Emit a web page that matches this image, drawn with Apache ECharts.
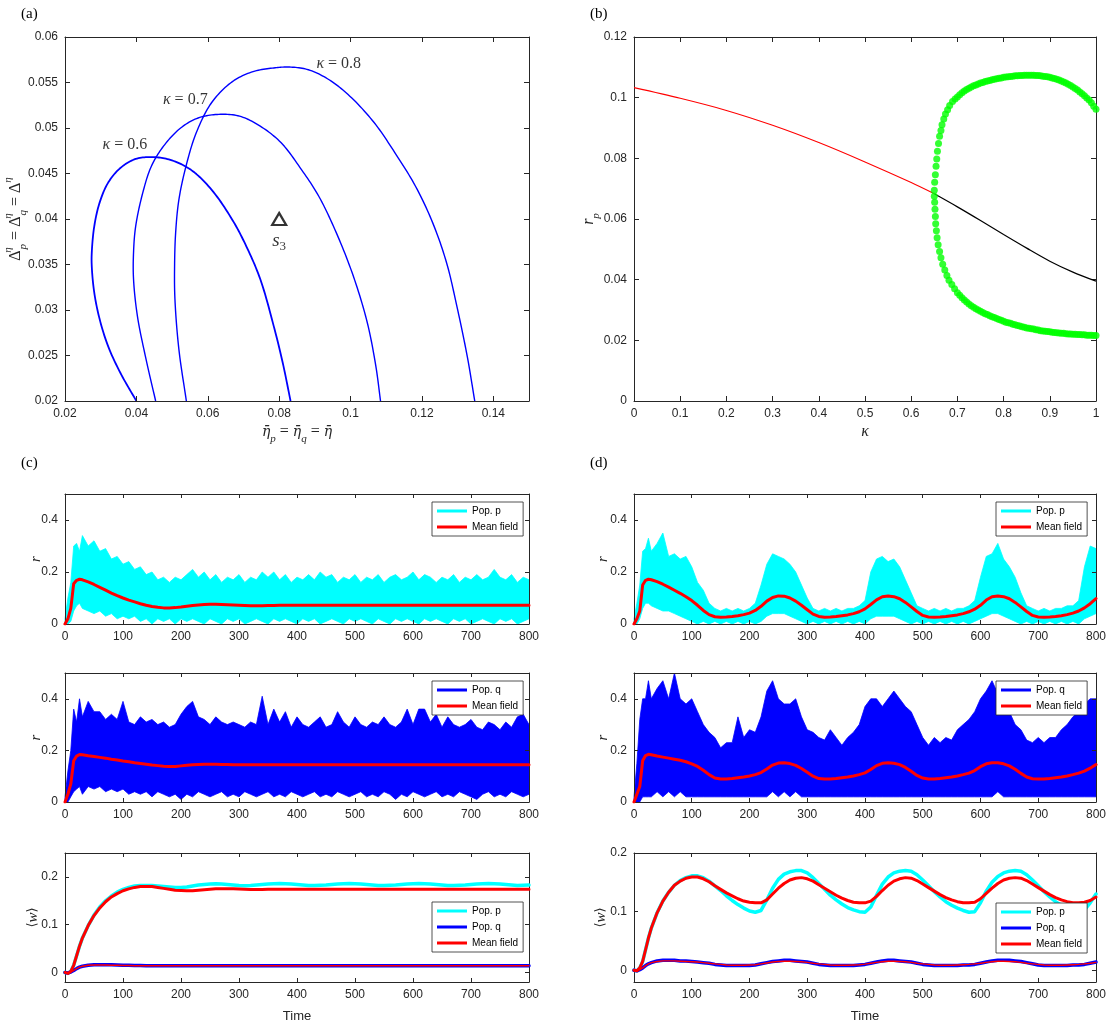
<!DOCTYPE html>
<html>
<head>
<meta charset="utf-8">
<script src="https://cdn.jsdelivr.net/npm/echarts@6/dist/echarts.min.js"></script>
<style>
  html, body { margin: 0; padding: 0; background: #fff; }
  #chart { width: 1109px; height: 1030px; }
</style>
</head>
<body>
<div id="chart"></div>
<script>
// ---------- (a) Hopf boundaries in the (eta, Delta) plane ----------
const k06X = [0.0400,0.0355,0.0321,0.0297,0.0282,0.0275,0.0275,0.0282,0.0297,0.0321,0.0355,0.0398,0.0447,0.0495,0.0553,0.0611,0.0669,0.0708,0.0747,0.0785,0.0810,0.0832];
const k06Y = [0.0200,0.0231,0.0260,0.0290,0.0319,0.0348,0.0363,0.0392,0.0418,0.0440,0.0456,0.0466,0.0468,0.0465,0.0454,0.0432,0.0399,0.0370,0.0334,0.0282,0.0242,0.0200];
const k07X = [0.0454,0.0427,0.0403,0.0392,0.0392,0.0398,0.0418,0.0442,0.0476,0.0524,0.0573,0.0631,0.0689,0.0747,0.0805,0.0863,0.0911,0.0960,0.1008,0.1047,0.1071,0.1084];
const k07Y = [0.0200,0.0246,0.0293,0.0334,0.0363,0.0392,0.0429,0.0458,0.0480,0.0500,0.0511,0.0515,0.0513,0.0502,0.0484,0.0454,0.0425,0.0385,0.0337,0.0286,0.0238,0.0200];
const k08X = [0.0540,0.0519,0.0508,0.0507,0.0510,0.0519,0.0539,0.0568,0.0611,0.0669,0.0727,0.0785,0.0829,0.0882,0.0940,0.0998,0.1066,0.1124,0.1182,0.1230,0.1269,0.1298,0.1327,0.1348];
const k08Y = [0.0200,0.0257,0.0312,0.0348,0.0385,0.0421,0.0458,0.0495,0.0528,0.0551,0.0562,0.0566,0.0567,0.0564,0.0553,0.0535,0.0506,0.0473,0.0436,0.0396,0.0352,0.0304,0.0249,0.0200];
const kappaLabelText = ['0.6', '0.7', '0.8'];
const kappaLabelX = [0.0368, 0.0537, 0.0967];
const kappaLabelY = [0.0481, 0.0531, 0.0571];
const s3Point = [0.080, 0.040];
const aTicksX = [0.02, 0.04, 0.06, 0.08, 0.1, 0.12, 0.14];
const aTicksY = [0.02, 0.025, 0.03, 0.035, 0.04, 0.045, 0.05, 0.055, 0.06];

// ---------- (b) bifurcation diagram r_p vs kappa ----------
const kRed = [0, 0.1, 0.2, 0.3, 0.4, 0.5, 0.6, 0.65];
const rRed = [0.1033, 0.0998, 0.0958, 0.0909, 0.0852, 0.0788, 0.0720, 0.0683];
const kBlack = [0.65, 0.7, 0.75, 0.8, 0.85, 0.9, 0.95, 1.0];
const rBlack = [0.0683, 0.0640, 0.0595, 0.0549, 0.0504, 0.0461, 0.0425, 0.0395];
const kUpNear = [0.650,0.6508,0.6523,0.6538,0.6553,0.6568,0.6591,0.6614,0.6644,0.6667,0.6705,0.6742,0.6788,0.6833,0.6894,0.6950];
const rUpNear = [0.0695,0.0721,0.0746,0.0774,0.0798,0.0823,0.0849,0.0873,0.0892,0.0911,0.0930,0.0946,0.0960,0.0974,0.0987,0.0996];
const kLoNear = [0.650,0.6508,0.6515,0.6523,0.6530,0.6545,0.6561,0.6583,0.6614,0.6644,0.6682,0.6727,0.6773,0.6818,0.6879,0.6939];
const rLoNear = [0.0675,0.0655,0.0632,0.0608,0.0584,0.0561,0.0538,0.0515,0.0493,0.0472,0.0451,0.0432,0.0414,0.0398,0.0384,0.0370];
const kGrid = [
  0.700,0.705,0.710,0.715,0.720,0.725,0.730,0.735,0.740,0.745,
  0.750,0.755,0.760,0.765,0.770,0.775,0.780,0.785,0.790,0.795,
  0.800,0.805,0.810,0.815,0.820,0.825,0.830,0.835,0.840,0.845,
  0.850,0.855,0.860,0.865,0.870,0.875,0.880,0.885,0.890,0.895,
  0.900,0.905,0.910,0.915,0.920,0.925,0.930,0.935,0.940,0.945,
  0.950,0.955,0.960,0.965,0.970,0.975,0.980,0.985,0.990,0.995,
  1.000];
const rUpGrid = [
  0.1002,0.1010,0.1016,0.1022,0.1027,0.1031,0.1035,0.1039,0.1042,0.1045,
  0.1048,0.1050,0.1053,0.1055,0.1057,0.1059,0.1061,0.1062,0.1064,0.1065,
  0.1067,0.1068,0.1069,0.1070,0.1071,0.1072,0.1072,0.1073,0.1073,0.1074,
  0.1074,0.1074,0.1074,0.1074,0.1073,0.1073,0.1072,0.1071,0.1070,0.1069,
  0.1067,0.1065,0.1063,0.1061,0.1058,0.1055,0.1052,0.1048,0.1044,0.1040,
  0.1035,0.1030,0.1025,0.1019,0.1013,0.1006,0.0999,0.0992,0.0983,0.0972,
  0.0962];
const rLoGrid = [
  0.0357,0.0349,0.0340,0.0333,0.0326,0.0320,0.0314,0.0309,0.0304,0.0300,
  0.0296,0.0292,0.0288,0.0285,0.0281,0.0278,0.0275,0.0272,0.0269,0.0266,
  0.0263,0.0260,0.0258,0.0256,0.0253,0.0251,0.0249,0.0247,0.0245,0.0243,
  0.0241,0.0240,0.0238,0.0237,0.0235,0.0234,0.0232,0.0231,0.0230,0.0229,
  0.0228,0.0227,0.0226,0.0225,0.0224,0.0223,0.0223,0.0222,0.0221,0.0221,
  0.0220,0.0220,0.0219,0.0219,0.0218,0.0218,0.0217,0.0217,0.0217,0.0216,
  0.0216];
const bTicksX = [0, 0.1, 0.2, 0.3, 0.4, 0.5, 0.6, 0.7, 0.8, 0.9, 1];
const bTicksY = [0, 0.02, 0.04, 0.06, 0.08, 0.1, 0.12];

// ---------- (c),(d) time traces ----------
const TIME = [
  0,5,10,15,20,25,30,40,50,60,
  70,80,90,100,110,120,130,140,150,160,
  170,180,190,200,210,220,230,240,250,260,
  270,280,290,300,310,320,330,340,350,360,
  370,380,390,400,410,420,430,440,450,460,
  470,480,490,500,510,520,530,540,550,560,
  570,580,590,600,610,620,630,640,650,660,
  670,680,690,700,710,720,730,740,750,760,
  770,780,790,800];
const timeTicks = [0, 100, 200, 300, 400, 500, 600, 700, 800];
const rTicks = [0, 0.2, 0.4];
const wTicks = [0, 0.1, 0.2];

// (c) upper panel: population p, spread of the noisy trace
const cPHigh = [
  0.02,0.10,0.16,0.30,0.31,0.28,0.34,0.30,0.32,0.28,
  0.29,0.25,0.26,0.23,0.24,0.21,0.22,0.19,0.20,0.17,
  0.18,0.16,0.18,0.17,0.19,0.21,0.18,0.20,0.17,0.19,
  0.16,0.18,0.17,0.19,0.16,0.18,0.17,0.20,0.18,0.20,
  0.17,0.19,0.16,0.18,0.17,0.19,0.17,0.20,0.18,0.19,
  0.16,0.18,0.17,0.19,0.16,0.18,0.17,0.19,0.16,0.18,
  0.19,0.17,0.18,0.20,0.17,0.19,0.18,0.16,0.18,0.17,
  0.19,0.16,0.18,0.17,0.19,0.17,0.18,0.21,0.18,0.17,
  0.19,0.16,0.18,0.17];
const cPLow = [
  0.00,0.00,0.01,0.05,0.07,0.08,0.06,0.05,0.04,0.05,
  0.03,0.04,0.02,0.03,0.02,0.03,0.01,0.02,0.00,0.02,
  0.01,0.02,0.00,0.02,0.01,0.02,0.01,0.00,0.02,0.01,
  0.00,0.02,0.01,0.02,0.00,0.01,0.02,0.01,0.00,0.02,
  0.01,0.02,0.01,0.00,0.02,0.01,0.02,0.00,0.01,0.02,
  0.01,0.00,0.02,0.01,0.02,0.01,0.00,0.02,0.01,0.00,
  0.02,0.01,0.02,0.01,0.00,0.02,0.01,0.02,0.01,0.00,
  0.02,0.01,0.02,0.00,0.01,0.02,0.01,0.00,0.02,0.01,
  0.02,0.00,0.01,0.02];
const cPMean = [
  0,0.02,0.06,0.155,0.168,0.172,0.170,0.162,0.152,0.141,
  0.130,0.119,0.109,0.100,0.092,0.085,0.078,0.072,0.067,0.064,
  0.062,0.062,0.063,0.065,0.068,0.071,0.073,0.075,0.076,0.076,
  0.075,0.074,0.073,0.072,0.071,0.070,0.070,0.070,0.071,0.071,
  0.072,0.072,0.072,0.072,0.072,0.072,0.072,0.072,0.072,0.072,
  0.072,0.072,0.072,0.072,0.072,0.072,0.072,0.072,0.072,0.072,
  0.072,0.072,0.072,0.072,0.072,0.072,0.072,0.072,0.072,0.072,
  0.072,0.072,0.072,0.072,0.072,0.072,0.072,0.072,0.072,0.072,
  0.072,0.072,0.072,0.072];

// (c) middle panel: population q
const cQHigh = [
  0.02,0.12,0.20,0.36,0.31,0.40,0.33,0.39,0.35,0.35,
  0.32,0.34,0.32,0.39,0.31,0.30,0.33,0.31,0.32,0.30,
  0.31,0.29,0.30,0.34,0.37,0.39,0.33,0.32,0.30,0.33,
  0.31,0.30,0.31,0.30,0.29,0.31,0.30,0.41,0.30,0.36,
  0.31,0.35,0.29,0.33,0.30,0.29,0.31,0.33,0.29,0.30,
  0.35,0.31,0.29,0.33,0.30,0.29,0.31,0.30,0.33,0.30,
  0.29,0.31,0.36,0.30,0.36,0.36,0.31,0.34,0.29,0.33,
  0.30,0.29,0.30,0.32,0.29,0.28,0.31,0.30,0.28,0.31,
  0.29,0.33,0.34,0.30];
const cQLow = [
  0.00,0.00,0.02,0.04,0.05,0.06,0.03,0.06,0.05,0.06,
  0.04,0.05,0.04,0.05,0.03,0.04,0.03,0.04,0.02,0.04,
  0.03,0.02,0.03,0.01,0.03,0.02,0.04,0.03,0.02,0.03,
  0.04,0.02,0.03,0.02,0.04,0.03,0.02,0.03,0.04,0.02,
  0.03,0.02,0.04,0.03,0.02,0.03,0.04,0.02,0.03,0.02,
  0.04,0.03,0.02,0.03,0.04,0.02,0.03,0.02,0.04,0.03,
  0.01,0.03,0.02,0.04,0.03,0.02,0.03,0.04,0.02,0.03,
  0.02,0.04,0.03,0.02,0.01,0.03,0.04,0.02,0.03,0.02,
  0.04,0.03,0.02,0.03];
const cQMean = [
  0,0.03,0.07,0.16,0.178,0.184,0.183,0.179,0.176,0.173,
  0.170,0.166,0.163,0.159,0.156,0.152,0.149,0.146,0.143,0.141,
  0.139,0.138,0.138,0.140,0.142,0.144,0.145,0.146,0.146,0.146,
  0.145,0.145,0.144,0.144,0.144,0.144,0.144,0.144,0.144,0.144,
  0.144,0.144,0.144,0.144,0.144,0.144,0.144,0.144,0.144,0.144,
  0.144,0.144,0.144,0.144,0.144,0.144,0.144,0.144,0.144,0.144,
  0.144,0.144,0.144,0.144,0.144,0.144,0.144,0.144,0.144,0.144,
  0.144,0.144,0.144,0.144,0.144,0.144,0.144,0.144,0.144,0.144,
  0.144,0.144,0.144,0.144];

// (c) lower panel: mean synaptic weights
const cWP = [
  0,-0.002,0.002,0.015,0.035,0.055,0.072,0.098,0.120,0.137,
  0.150,0.160,0.168,0.174,0.178,0.181,0.182,0.182,0.182,0.181,
  0.180,0.179,0.178,0.178,0.179,0.181,0.183,0.184,0.185,0.1855,
  0.185,0.184,0.183,0.182,0.1815,0.182,0.183,0.184,0.185,0.1855,
  0.186,0.1855,0.185,0.184,0.183,0.182,0.182,0.1825,0.183,0.184,
  0.185,0.1855,0.186,0.1855,0.185,0.184,0.183,0.182,0.182,0.1825,
  0.183,0.184,0.185,0.1855,0.186,0.1855,0.185,0.184,0.183,0.182,
  0.182,0.1825,0.183,0.184,0.185,0.1855,0.186,0.1855,0.185,0.184,
  0.183,0.182,0.1825,0.183];
const cWPMean = [
  0,-0.002,0.002,0.015,0.035,0.055,0.072,0.098,0.119,0.135,
  0.148,0.158,0.165,0.171,0.175,0.178,0.180,0.180,0.180,0.178,
  0.176,0.174,0.172,0.1715,0.171,0.171,0.172,0.173,0.174,0.175,
  0.175,0.175,0.175,0.1745,0.174,0.1735,0.1735,0.1735,0.174,0.174,
  0.174,0.174,0.174,0.174,0.174,0.174,0.174,0.174,0.174,0.174,
  0.174,0.174,0.174,0.174,0.174,0.174,0.174,0.174,0.174,0.174,
  0.174,0.174,0.174,0.174,0.174,0.174,0.174,0.174,0.174,0.174,
  0.174,0.174,0.174,0.174,0.174,0.174,0.174,0.174,0.174,0.174,
  0.174,0.174,0.174,0.174];
const cWQ = [
  0,-0.001,0.001,0.004,0.008,0.011,0.013,0.015,0.016,0.016,
  0.016,0.016,0.0155,0.015,0.015,0.0145,0.0145,0.014,0.014,0.014,
  0.014,0.014,0.014,0.014,0.014,0.014,0.014,0.014,0.014,0.014,
  0.014,0.014,0.014,0.014,0.014,0.014,0.014,0.014,0.014,0.014,
  0.014,0.014,0.014,0.014,0.014,0.014,0.014,0.014,0.014,0.014,
  0.014,0.014,0.014,0.014,0.014,0.014,0.014,0.014,0.014,0.014,
  0.014,0.014,0.014,0.014,0.014,0.014,0.014,0.014,0.014,0.014,
  0.014,0.014,0.014,0.014,0.014,0.014,0.014,0.014,0.014,0.014,
  0.014,0.014,0.014,0.014];
const cWQMean = [
  0,-0.001,0.001,0.004,0.008,0.011,0.013,0.015,0.0155,0.0155,
  0.0155,0.015,0.015,0.0145,0.0145,0.014,0.014,0.014,0.014,0.014,
  0.014,0.014,0.014,0.014,0.014,0.014,0.014,0.014,0.014,0.014,
  0.014,0.014,0.014,0.014,0.014,0.014,0.014,0.014,0.014,0.014,
  0.014,0.014,0.014,0.014,0.014,0.014,0.014,0.014,0.014,0.014,
  0.014,0.014,0.014,0.014,0.014,0.014,0.014,0.014,0.014,0.014,
  0.014,0.014,0.014,0.014,0.014,0.014,0.014,0.014,0.014,0.014,
  0.014,0.014,0.014,0.014,0.014,0.014,0.014,0.014,0.014,0.014,
  0.014,0.014,0.014,0.014];

// (d) upper panel: population p (oscillating regime)
const dPHigh = [
  0.02,0.08,0.15,0.28,0.29,0.33,0.28,0.31,0.35,0.26,
  0.27,0.25,0.26,0.22,0.16,0.13,0.08,0.06,0.05,0.06,
  0.05,0.06,0.05,0.06,0.08,0.15,0.23,0.27,0.26,0.25,
  0.23,0.20,0.15,0.10,0.06,0.05,0.06,0.05,0.06,0.05,
  0.06,0.06,0.07,0.09,0.20,0.25,0.26,0.24,0.25,0.22,
  0.17,0.12,0.07,0.06,0.05,0.06,0.05,0.06,0.05,0.06,
  0.06,0.07,0.09,0.18,0.26,0.27,0.31,0.25,0.22,0.18,
  0.12,0.07,0.06,0.05,0.06,0.05,0.06,0.06,0.07,0.07,
  0.09,0.22,0.30,0.29];
const dPLow = [
  0.00,0.00,0.02,0.06,0.08,0.08,0.07,0.06,0.05,0.05,
  0.04,0.03,0.02,0.01,0.00,0.01,0.00,0.01,0.00,0.01,
  0.00,0.01,0.00,0.01,0.00,0.01,0.03,0.04,0.04,0.04,
  0.03,0.02,0.01,0.00,0.01,0.00,0.01,0.00,0.01,0.00,
  0.01,0.00,0.01,0.00,0.02,0.03,0.03,0.03,0.03,0.02,
  0.01,0.00,0.01,0.00,0.01,0.00,0.01,0.00,0.01,0.00,
  0.01,0.00,0.01,0.02,0.03,0.04,0.04,0.03,0.02,0.01,
  0.00,0.01,0.00,0.01,0.00,0.01,0.00,0.01,0.00,0.01,
  0.00,0.02,0.03,0.04];
const dPMean = [
  0,0.02,0.05,0.15,0.168,0.172,0.170,0.163,0.153,0.142,
  0.130,0.118,0.105,0.090,0.072,0.052,0.036,0.028,0.026,0.027,
  0.029,0.032,0.036,0.042,0.052,0.068,0.088,0.102,0.108,0.107,
  0.100,0.088,0.072,0.055,0.038,0.029,0.026,0.027,0.029,0.032,
  0.035,0.040,0.047,0.058,0.075,0.093,0.105,0.108,0.105,0.097,
  0.083,0.066,0.048,0.033,0.027,0.026,0.027,0.029,0.032,0.035,
  0.040,0.047,0.057,0.072,0.092,0.105,0.108,0.105,0.097,0.083,
  0.066,0.048,0.033,0.027,0.026,0.027,0.029,0.032,0.036,0.042,
  0.050,0.062,0.078,0.098];

// (d) middle panel: population q
const dQHigh = [
  0.02,0.15,0.32,0.40,0.40,0.47,0.40,0.44,0.47,0.40,
  0.50,0.40,0.38,0.40,0.35,0.30,0.27,0.25,0.21,0.23,
  0.23,0.33,0.25,0.28,0.27,0.33,0.43,0.47,0.40,0.38,
  0.38,0.40,0.33,0.28,0.27,0.25,0.24,0.28,0.25,0.22,
  0.25,0.27,0.30,0.37,0.40,0.40,0.37,0.40,0.43,0.40,
  0.37,0.35,0.30,0.25,0.22,0.25,0.23,0.25,0.24,0.28,
  0.30,0.32,0.35,0.40,0.43,0.47,0.42,0.38,0.35,0.30,
  0.28,0.24,0.23,0.25,0.23,0.25,0.25,0.28,0.30,0.33,
  0.35,0.38,0.40,0.40];
const dQLow = [
  0.00,0.00,0.00,0.02,0.02,0.02,0.02,0.04,0.02,0.04,
  0.02,0.04,0.02,0.02,0.02,0.02,0.02,0.02,0.02,0.02,
  0.02,0.02,0.02,0.02,0.02,0.02,0.02,0.04,0.02,0.04,
  0.02,0.04,0.02,0.02,0.02,0.02,0.02,0.02,0.02,0.02,
  0.02,0.02,0.02,0.02,0.02,0.02,0.02,0.02,0.02,0.02,
  0.02,0.02,0.02,0.02,0.02,0.02,0.02,0.02,0.02,0.02,
  0.02,0.02,0.02,0.02,0.02,0.02,0.04,0.02,0.02,0.02,
  0.02,0.02,0.02,0.02,0.02,0.02,0.02,0.02,0.02,0.02,
  0.02,0.02,0.02,0.02];
const dQMean = [
  0,0.03,0.06,0.16,0.18,0.185,0.183,0.178,0.174,0.170,
  0.166,0.162,0.156,0.148,0.138,0.123,0.106,0.093,0.089,0.089,
  0.091,0.094,0.097,0.101,0.106,0.114,0.128,0.143,0.151,0.152,
  0.149,0.142,0.130,0.115,0.100,0.091,0.089,0.089,0.091,0.094,
  0.097,0.101,0.106,0.113,0.126,0.141,0.150,0.152,0.150,0.145,
  0.134,0.119,0.103,0.093,0.089,0.089,0.091,0.094,0.097,0.101,
  0.106,0.112,0.122,0.137,0.148,0.152,0.152,0.148,0.140,0.127,
  0.111,0.097,0.090,0.089,0.089,0.091,0.094,0.097,0.101,0.106,
  0.112,0.120,0.131,0.145];

// (d) lower panel: mean synaptic weights
const dWP = [
  0,-0.001,0.004,0.015,0.035,0.055,0.072,0.098,0.118,0.133,
  0.145,0.153,0.158,0.161,0.161,0.158,0.152,0.144,0.136,0.127,
  0.119,0.112,0.106,0.101,0.099,0.102,0.120,0.140,0.155,0.164,
  0.168,0.170,0.170,0.166,0.158,0.148,0.138,0.128,0.120,0.113,
  0.107,0.103,0.100,0.099,0.108,0.128,0.147,0.159,0.166,0.169,
  0.170,0.169,0.163,0.154,0.144,0.134,0.125,0.117,0.111,0.106,
  0.102,0.099,0.100,0.115,0.135,0.150,0.160,0.166,0.169,0.170,
  0.169,0.163,0.154,0.144,0.134,0.125,0.117,0.111,0.106,0.102,
  0.100,0.103,0.115,0.130];
const dWPMean = [
  0,-0.001,0.004,0.015,0.035,0.055,0.072,0.098,0.118,0.133,
  0.145,0.152,0.157,0.159,0.159,0.156,0.151,0.144,0.138,0.132,
  0.127,0.122,0.118,0.116,0.115,0.115,0.120,0.130,0.140,0.148,
  0.154,0.157,0.158,0.156,0.152,0.146,0.140,0.134,0.128,0.123,
  0.119,0.116,0.115,0.115,0.118,0.126,0.136,0.145,0.152,0.156,
  0.158,0.157,0.153,0.147,0.141,0.135,0.129,0.124,0.120,0.117,
  0.115,0.115,0.116,0.122,0.131,0.140,0.148,0.154,0.157,0.158,
  0.157,0.153,0.147,0.141,0.135,0.129,0.124,0.120,0.117,0.115,
  0.115,0.116,0.119,0.125];
const dWQ = [
  0,-0.001,0.001,0.004,0.008,0.011,0.013,0.016,0.017,0.017,
  0.017,0.016,0.016,0.015,0.014,0.013,0.012,0.010,0.009,0.008,
  0.008,0.008,0.008,0.008,0.009,0.011,0.013,0.015,0.016,0.017,
  0.017,0.016,0.015,0.014,0.012,0.010,0.009,0.008,0.008,0.008,
  0.008,0.008,0.009,0.010,0.012,0.014,0.016,0.017,0.017,0.016,
  0.015,0.014,0.012,0.010,0.009,0.008,0.008,0.008,0.008,0.008,
  0.009,0.009,0.010,0.012,0.014,0.016,0.017,0.017,0.017,0.016,
  0.015,0.013,0.011,0.009,0.008,0.008,0.008,0.008,0.008,0.009,
  0.009,0.010,0.012,0.014];
const dWQMean = [
  0,-0.001,0.001,0.004,0.008,0.011,0.013,0.015,0.016,0.016,
  0.016,0.0155,0.015,0.0145,0.014,0.013,0.012,0.011,0.010,0.009,
  0.0085,0.0085,0.0085,0.009,0.0095,0.011,0.0125,0.014,0.015,0.0155,
  0.0155,0.015,0.0145,0.0135,0.012,0.011,0.010,0.009,0.0085,0.0085,
  0.0085,0.009,0.0095,0.0105,0.012,0.0135,0.0145,0.0155,0.0155,0.015,
  0.0145,0.0135,0.012,0.011,0.010,0.009,0.0085,0.0085,0.0085,0.009,
  0.0095,0.010,0.011,0.012,0.0135,0.0145,0.0155,0.0155,0.015,0.0145,
  0.0135,0.012,0.011,0.010,0.009,0.0085,0.0085,0.0085,0.009,0.0095,
  0.010,0.011,0.012,0.0135];

// ---------- styling ----------
const SANS = "'Liberation Sans', Arial, Helvetica, sans-serif";
const SERIF = "'Liberation Serif', 'Times New Roman', 'DejaVu Serif', serif";
const BARFONT = "'DejaVu Serif', serif";
const INK = '#262626';
const CYAN = '#00ffff', BLUE = '#0000ff', RED = '#ff0000', GREEN = '#00ff00';

// math-like rich text: tall line box so sub/superscripts can sit below/above
const MATH = {
  i:    { fontFamily: SERIF, fontStyle: 'italic', fontSize: 16, lineHeight: 26, color: INK },
  e:    { fontFamily: BARFONT, fontStyle: 'italic', fontSize: 14, lineHeight: 26, color: INK },
  t:    { fontFamily: SERIF, fontSize: 16, lineHeight: 26, color: INK },
  sub:  { fontFamily: SERIF, fontStyle: 'italic', fontSize: 11, lineHeight: 11, verticalAlign: 'bottom', color: INK },
  sup:  { fontFamily: SERIF, fontStyle: 'italic', fontSize: 11, lineHeight: 11, verticalAlign: 'top', color: INK },
  supn: { fontFamily: SERIF, fontStyle: 'italic', fontSize: 11, lineHeight: 11, verticalAlign: 'top', color: INK, width: 1 }
};
// single-symbol axis names: compact line box
const SYM = {
  i:  { fontFamily: SERIF, fontStyle: 'italic', fontSize: 15, lineHeight: 16, color: INK },
  br: { fontFamily: BARFONT, fontSize: 13, lineHeight: 16, color: INK }
};

const fmt = v => String(Math.round(v * 1e6) / 1e6);
const zip = (xs, ys) => xs.map((x, i) => [x, ys[i]]);

// plot boxes: a, b, c1, c2, c3, d1, d2, d3
const grids = [
  { left: 65,  top: 37,  width: 464, height: 364 },
  { left: 634, top: 37,  width: 462, height: 364 },
  { left: 65,  top: 494, width: 464, height: 130 },
  { left: 65,  top: 673, width: 464, height: 129 },
  { left: 65,  top: 853, width: 464, height: 129 },
  { left: 634, top: 494, width: 462, height: 130 },
  { left: 634, top: 673, width: 462, height: 129 },
  { left: 634, top: 853, width: 462, height: 129 }
];

function baseAxis(gi, min, max, ticks, tickLen, position) {
  return {
    type: 'value', gridIndex: gi, min, max, position, z: 3,
    axisLine: { show: true, onZero: false, lineStyle: { color: INK, width: 1 } },
    axisTick: { show: true, inside: true, length: tickLen, customValues: ticks, lineStyle: { color: INK, width: 1 } },
    axisLabel: { show: false },
    splitLine: { show: false }
  };
}
function labelled(ax, ticks, name, nameGap, nameRotate, nameStyle) {
  ax.axisLabel = { show: true, customValues: ticks, formatter: fmt, margin: 7, fontFamily: SANS, fontSize: 12, color: INK };
  if (name) {
    ax.name = name;
    ax.nameLocation = 'middle';
    ax.nameGap = nameGap;
    ax.nameRotate = nameRotate;
    ax.nameTextStyle = nameStyle;
    ax.nameMoveOverlap = false;
  }
  return ax;
}

const xAxes = [], yAxes = [];
function box(gi, xr, xt, yr, yt, tickLen, xName, xGap, xStyle, yName, yGap, yStyle) {
  xAxes.push(labelled(baseAxis(gi, xr[0], xr[1], xt, tickLen, 'bottom'), xt, xName, xGap, 0, xStyle));
  xAxes.push(baseAxis(gi, xr[0], xr[1], xt, tickLen, 'top'));
  yAxes.push(labelled(baseAxis(gi, yr[0], yr[1], yt, tickLen, 'left'), yt, yName, yGap, 90, yStyle));
  yAxes.push(baseAxis(gi, yr[0], yr[1], yt, tickLen, 'right'));
}

const mathStyle = { rich: MATH };
const symStyle = { rich: SYM };
const timeStyle = { fontFamily: SANS, fontSize: 13, color: INK };
const ETA = '\u03B7\u0304';
box(0, [0.02, 0.15], aTicksX, [0.02, 0.06], aTicksY, 5,
  `{e|${ETA}}{sub|p}{t| = }{e|${ETA}}{sub|q}{t| = }{e|${ETA}}`, 18, mathStyle,
  '{t|Δ}{supn|η}{sub|p}{t| = Δ}{supn|η}{sub|q}{t| = Δ}{sup|η}', 36, mathStyle);
box(1, [0, 1], bTicksX, [0, 0.12], bTicksY, 5,
  '{i|κ}', 18, mathStyle, '{i|r}{sub|p}', 32, mathStyle);
box(2, [0, 800], timeTicks, [0, 0.5], rTicks, 4, '', 0, null, '{i|r}', 21, symStyle);
box(3, [0, 800], timeTicks, [0, 0.5], rTicks, 4, '', 0, null, '{i|r}', 21, symStyle);
box(4, [0, 800], timeTicks, [-0.02, 0.25], wTicks, 4, 'Time', 28, timeStyle, '{br|⟨}{i|w}{br|⟩}', 24, symStyle);
box(5, [0, 800], timeTicks, [0, 0.5], rTicks, 4, '', 0, null, '{i|r}', 23, symStyle);
box(6, [0, 800], timeTicks, [0, 0.5], rTicks, 4, '', 0, null, '{i|r}', 23, symStyle);
box(7, [0, 800], timeTicks, [-0.02, 0.2], wTicks, 4, 'Time', 28, timeStyle, '{br|⟨}{i|w}{br|⟩}', 25, symStyle);

// centripetal Catmull-Rom through screen points, returned as a dense polyline
function catmullRom(P, steps) {
  const n = P.length;
  const ext = (a, b) => [2 * a[0] - b[0], 2 * a[1] - b[1]];
  const knot = (a, b) => Math.max(Math.sqrt(Math.hypot(b[0] - a[0], b[1] - a[1])), 1e-4);
  const mix = (a, b, wa, wb) => [a[0] * wa + b[0] * wb, a[1] * wa + b[1] * wb];
  const out = [P[0]];
  for (let i = 0; i < n - 1; i++) {
    const p1 = P[i], p2 = P[i + 1];
    const p0 = i > 0 ? P[i - 1] : ext(p1, p2);
    const p3 = i < n - 2 ? P[i + 2] : ext(p2, p1);
    const t0 = 0, t1 = t0 + knot(p0, p1), t2 = t1 + knot(p1, p2), t3 = t2 + knot(p2, p3);
    for (let s = 1; s <= steps; s++) {
      const t = t1 + (t2 - t1) * s / steps;
      const A1 = mix(p0, p1, (t1 - t) / (t1 - t0), (t - t0) / (t1 - t0));
      const A2 = mix(p1, p2, (t2 - t) / (t2 - t1), (t - t1) / (t2 - t1));
      const A3 = mix(p2, p3, (t3 - t) / (t3 - t2), (t - t2) / (t3 - t2));
      const B1 = mix(A1, A2, (t2 - t) / (t2 - t0), (t - t0) / (t2 - t0));
      const B2 = mix(A2, A3, (t3 - t) / (t3 - t1), (t - t1) / (t3 - t1));
      out.push(mix(B1, B2, (t2 - t) / (t2 - t1), (t - t1) / (t2 - t1)));
    }
  }
  return out;
}
// smooth boundary curve through the listed (eta, Delta) points
function curveSeries(name, xs, ys, width) {
  return {
    type: 'custom', name, xAxisIndex: 0, yAxisIndex: 0, z: 2,
    encode: { x: 0, y: 1 },
    data: zip(xs, ys),
    renderItem(params, api) {
      if (params.dataIndexInside !== 0) return null;
      const pts = [];
      for (let k = 0; k < params.dataInsideLength; k++) {
        pts.push(api.coord([api.value(0, k), api.value(1, k)]));
      }
      return {
        type: 'polyline',
        shape: { points: catmullRom(pts, 12) },
        style: { stroke: BLUE, lineWidth: width, fill: null, lineJoin: 'round' }
      };
    }
  };
}

// filled spread of a noisy trace, drawn as one polygon between its lower and upper envelope
function bandSeries(name, gi, low, high, color) {
  return {
    type: 'custom', name, color, xAxisIndex: 2 * gi, yAxisIndex: 2 * gi, z: 2,
    itemStyle: { color },
    encode: { x: 0, y: [1, 2] },
    data: TIME.map((t, i) => [t, low[i], high[i]]),
    renderItem(params, api) {
      if (params.dataIndexInside !== 0) return null;
      const n = params.dataInsideLength;
      const top = [], bottom = [];
      for (let k = 0; k < n; k++) {
        const t = api.value(0, k);
        top.push(api.coord([t, api.value(2, k)]));
        bottom.push(api.coord([t, api.value(1, k)]));
      }
      return {
        type: 'polygon',
        shape: { points: top.concat(bottom.reverse()) },
        style: { fill: color, stroke: color, lineWidth: 0.8 }
      };
    }
  };
}
function traceSeries(name, gi, values, color, width, z) {
  return {
    type: 'line', name, color, xAxisIndex: 2 * gi, yAxisIndex: 2 * gi, z,
    data: TIME.map((t, i) => [t, values[i]]),
    symbol: 'none', showSymbol: false,
    lineStyle: { color, width, cap: 'round', join: 'round' },
    itemStyle: { color }
  };
}

const series = [
  // (c) and (d) noisy firing-rate traces first, so legend colours come from them
  bandSeries('Pop. p', 2, cPLow, cPHigh, CYAN),
  traceSeries('Mean field', 2, cPMean, RED, 3, 4),
  bandSeries('Pop. q', 3, cQLow, cQHigh, BLUE),
  traceSeries('Mean field', 3, cQMean, RED, 3, 4),
  traceSeries('Pop. p', 4, cWP, CYAN, 3.5, 3),
  traceSeries('Pop. q', 4, cWQ, BLUE, 3.5, 3),
  traceSeries('Mean field', 4, cWPMean, RED, 3, 4),
  traceSeries('Mean field', 4, cWQMean, RED, 1.4, 4),
  bandSeries('Pop. p', 5, dPLow, dPHigh, CYAN),
  traceSeries('Mean field', 5, dPMean, RED, 3, 4),
  bandSeries('Pop. q', 6, dQLow, dQHigh, BLUE),
  traceSeries('Mean field', 6, dQMean, RED, 3, 4),
  traceSeries('Pop. p', 7, dWP, CYAN, 3.5, 3),
  traceSeries('Pop. q', 7, dWQ, BLUE, 3.5, 3),
  traceSeries('Mean field', 7, dWPMean, RED, 3, 4),
  traceSeries('Mean field', 7, dWQMean, RED, 1.4, 4),

  // (a) boundary curves for three coupling values
  curveSeries('kappa 0.6', k06X, k06Y, 1.8),
  curveSeries('kappa 0.7', k07X, k07Y, 1.4),
  curveSeries('kappa 0.8', k08X, k08Y, 1.4),
  { type: 'scatter', name: 'kappa labels', xAxisIndex: 0, yAxisIndex: 0,
    data: zip(kappaLabelX, kappaLabelY), symbolSize: 1, itemStyle: { color: 'rgba(0,0,0,0)' },
    label: { show: true, position: 'inside',
      formatter: p => `{i|κ}{t| = ${kappaLabelText[p.dataIndex]}}`,
      rich: {
        i: { fontFamily: SERIF, fontStyle: 'italic', fontSize: 16, color: '#000' },
        t: { fontFamily: SERIF, fontSize: 16, color: '#000' }
      } } },
  { type: 'scatter', name: 's3', xAxisIndex: 0, yAxisIndex: 0, data: [s3Point],
    symbol: 'triangle', symbolSize: [14, 12],
    itemStyle: { color: 'rgba(0,0,0,0)', borderColor: '#000', borderWidth: 2.2 },
    label: { show: true, position: 'bottom', distance: 3, formatter: '{s|s}{n|3}',
      rich: {
        s: { fontFamily: SERIF, fontStyle: 'italic', fontSize: 19, lineHeight: 24, color: '#000' },
        n: { fontFamily: SERIF, fontSize: 13, lineHeight: 12, verticalAlign: 'bottom', color: '#000' }
      } } },

  // (b) stationary branch and oscillation extrema
  { type: 'line', name: 'stable', xAxisIndex: 2, yAxisIndex: 2, data: zip(kRed, rRed), smooth: 0.3,
    symbol: 'none', lineStyle: { color: RED, width: 1.1 } },
  { type: 'line', name: 'unstable', xAxisIndex: 2, yAxisIndex: 2, data: zip(kBlack, rBlack), smooth: 0.3,
    symbol: 'none', lineStyle: { color: '#000', width: 1.2 } },
  { type: 'scatter', name: 'max', xAxisIndex: 2, yAxisIndex: 2, clip: false,
    data: zip(kUpNear.concat(kGrid), rUpNear.concat(rUpGrid)),
    symbolSize: 7, itemStyle: { color: GREEN }, z: 4 },
  { type: 'scatter', name: 'min', xAxisIndex: 2, yAxisIndex: 2, clip: false,
    data: zip(kLoNear.concat(kGrid), rLoNear.concat(rLoGrid)),
    symbolSize: 7, itemStyle: { color: GREEN }, z: 4 }
];

function legendAt(left, top, names) {
  return {
    data: names, orient: 'vertical', left, top, z: 10,
    icon: 'rect', itemWidth: 30, itemHeight: 3, itemGap: 6,
    padding: [4, 5, 4, 5], selectedMode: false,
    backgroundColor: '#fff', borderColor: INK, borderWidth: 0.8, borderRadius: 0,
    textStyle: { fontFamily: SANS, fontSize: 10, color: '#000' }
  };
}

const titleStyle = { fontFamily: SERIF, fontSize: 15, fontWeight: 'normal', color: '#000' };
const option = {
  animation: false,
  backgroundColor: '#fff',
  textStyle: { fontFamily: SANS },
  title: [
    { text: '(a)', left: 16, top: 2, textStyle: titleStyle },
    { text: '(b)', left: 585, top: 2, textStyle: titleStyle },
    { text: '(c)', left: 16, top: 451, textStyle: titleStyle },
    { text: '(d)', left: 585, top: 451, textStyle: titleStyle }
  ],
  grid: grids,
  xAxis: xAxes,
  yAxis: yAxes,
  legend: [
    legendAt(432, 502, ['Pop. p', 'Mean field']),
    legendAt(432, 681, ['Pop. q', 'Mean field']),
    legendAt(432, 902, ['Pop. p', 'Pop. q', 'Mean field']),
    legendAt(996, 502, ['Pop. p', 'Mean field']),
    legendAt(996, 681, ['Pop. q', 'Mean field']),
    legendAt(996, 903, ['Pop. p', 'Pop. q', 'Mean field'])
  ],
  series
};

const chart = echarts.init(document.getElementById('chart'), null, { renderer: 'canvas' });
chart.setOption(option);
</script>
</body>
</html>
